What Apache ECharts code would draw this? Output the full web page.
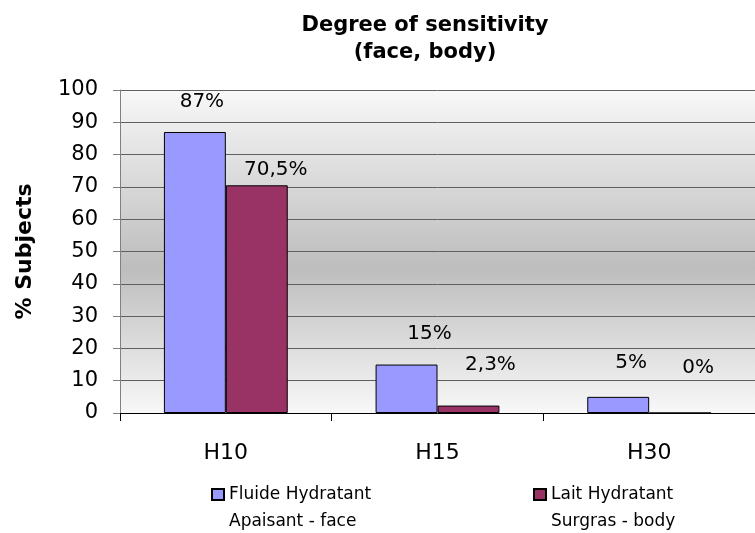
<!DOCTYPE html>
<html>
<head>
<meta charset="utf-8">
<script src="https://cdn.jsdelivr.net/npm/echarts@6/dist/echarts.min.js"></script>
<style>html,body{margin:0;padding:0;background:#fff}#c{width:755px;height:533px}</style>
</head>
<body>
<div id="c"></div>
<script>
var categories = ['H10', 'H15', 'H30'];
var seriesNames = ['Fluide Hydratant\nApaisant - face', 'Lait Hydratant\nSurgras - body'];
var faceValues = [87, 15, 5];
var bodyValues = [70.5, 2.3, 0];
var faceLabels = ['87%', '15%', '5%'];
var bodyLabels = ['70,5%', '2,3%', '0%'];
var yTicks = [0, 10, 20, 30, 40, 50, 60, 70, 80, 90, 100];

// label placement offsets (style only)
var faceOffsets = [[7, -15], [23, -16], [13, -19]];
var bodyOffsets = [[19, 0], [22, -26], [18, -30]];

var FONT = 'DejaVu Sans';

function buildData(values, labels, offsets) {
  return values.map(function (v, i) {
    return { value: v, label: { formatter: labels[i], offset: offsets[i] } };
  });
}

var legendText = { fontFamily: FONT, fontSize: 17, lineHeight: 27, color: '#000' };

var chart = echarts.init(document.getElementById('c'), null, { renderer: 'canvas' });
chart.setOption({
  animation: false,
  backgroundColor: '#ffffff',
  title: {
    text: 'Degree of sensitivity\n(face, body)',
    left: 420,
    textAlign: 'center',
    top: 7,
    textStyle: { fontFamily: FONT, fontWeight: 'bold', fontSize: 21, lineHeight: 27, color: '#000' }
  },
  grid: {
    left: 120, top: 90, bottom: 120, right: 0,
    outerBoundsMode: 'none',
    show: true,
    borderWidth: 0,
    backgroundColor: {
      type: 'linear', x: 0, y: 0, x2: 0, y2: 1,
      colorStops: [
        { offset: 0, color: '#f8f8f8' },
        { offset: 0.55, color: '#bdbdbd' },
        { offset: 1, color: '#f8f8f8' }
      ]
    }
  },
  legend: [
    {
      data: [seriesNames[0]], left: 206, top: 449, itemWidth: 12, itemHeight: 11, itemGap: 0,
      icon: 'rect',
      formatter: function (n) { return '\n' + n; },
      textStyle: legendText
    },
    {
      data: [seriesNames[1]], left: 528, top: 449, itemWidth: 12, itemHeight: 11, itemGap: 0,
      icon: 'rect',
      formatter: function (n) { return '\n' + n; },
      textStyle: legendText
    }
  ],
  xAxis: {
    type: 'category',
    data: categories,
    axisLine: { lineStyle: { color: '#000', width: 1 } },
    axisTick: { show: true, length: 8, lineStyle: { color: '#000' } },
    axisLabel: { fontFamily: FONT, fontSize: 22, color: '#000', margin: 29 },
    splitLine: { show: false }
  },
  yAxis: {
    type: 'value',
    min: yTicks[0], max: yTicks[yTicks.length - 1], interval: 10,
    name: '% Subjects',
    nameLocation: 'middle',
    nameGap: 84,
    nameTextStyle: { fontFamily: FONT, fontWeight: 'bold', fontSize: 22, color: '#000' },
    axisLine: { show: true, lineStyle: { color: '#808080', width: 1 } },
    axisTick: { show: true, length: 7, lineStyle: { color: '#808080' } },
    axisLabel: { fontFamily: FONT, fontSize: 21, color: '#000', margin: 22 },
    splitLine: { show: true, lineStyle: { color: '#606060', width: 1 } }
  },
  series: [
    {
      name: seriesNames[0], type: 'bar', barGap: '0%', barCategoryGap: '41.5%',
      itemStyle: { color: '#9999ff', borderColor: '#000', borderWidth: 1 },
      label: { show: true, position: 'top', fontFamily: FONT, fontSize: 20, color: '#000' },
      data: buildData(faceValues, faceLabels, faceOffsets)
    },
    {
      name: seriesNames[1], type: 'bar',
      itemStyle: { color: '#993366', borderColor: '#000', borderWidth: 1 },
      label: { show: true, position: 'top', fontFamily: FONT, fontSize: 20, color: '#000' },
      data: buildData(bodyValues, bodyLabels, bodyOffsets)
    }
  ]
});
</script>
</body>
</html>
